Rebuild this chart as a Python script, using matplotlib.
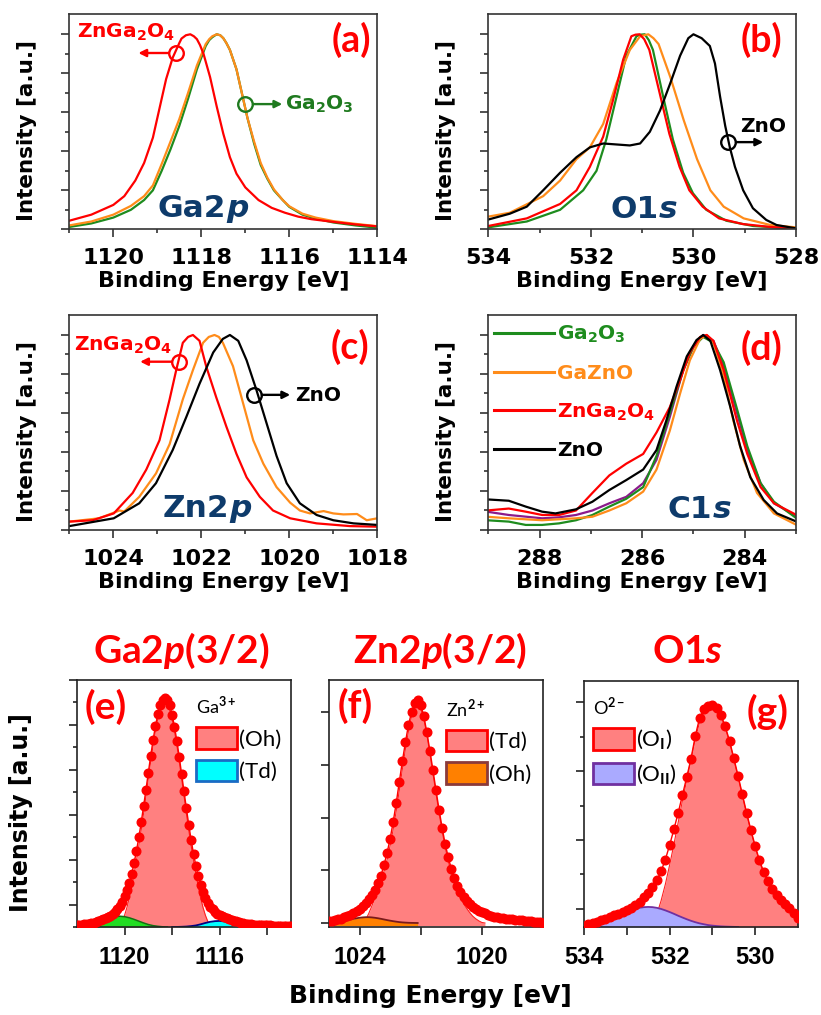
import numpy as np
import matplotlib
matplotlib.use("Agg")
import matplotlib.pyplot as plt
from matplotlib.patches import Patch

plt.rcParams['font.family'] = 'DejaVu Sans'
plt.rcParams['font.weight'] = 'bold'
plt.rcParams['mathtext.fontset'] = 'custom'
plt.rcParams['mathtext.rm'] = 'Lato'
plt.rcParams['mathtext.it'] = 'Lato:italic:bold'
plt.rcParams['mathtext.bf'] = 'Lato:bold'

# ---------------- data ----------------
# (a) Ga2p
a_red_x = [1121.0, 1120.5, 1120.0, 1119.75, 1119.5, 1119.3, 1119.1, 1118.95, 1118.8, 1118.65, 1118.5, 1118.45, 1118.35,
           1118.25, 1118.17, 1118.1, 1118.03, 1117.95, 1117.8, 1117.65, 1117.5, 1117.35, 1117.2, 1117.0, 1116.7,
           1116.4, 1116.1, 1115.8, 1115.5, 1115.0, 1114.5, 1114.0]
a_red_y = [.044, .075, .125, .17, .25, .34, .47, .62, .77, .88, .955, .978, .995,
           1.0, .99, .975, .945, .90, .78, .63, .49, .37, .285, .215, .15,
           .11, .085, .065, .052, .038, .025, .015]
a_orange_x = [1121.0, 1120.5, 1120.0, 1119.6, 1119.3, 1119.1, 1118.9, 1118.7, 1118.5, 1118.3, 1118.1, 1117.9, 1117.82,
              1117.75, 1117.65, 1117.57, 1117.5, 1117.43, 1117.35, 1117.2, 1117.05, 1116.95, 1116.8, 1116.65, 1116.5,
              1116.35, 1116.15, 1116.0, 1115.7, 1115.4, 1115.0, 1114.5, 1114.0]
a_orange_y = [.02, .04, .075, .12, .17, .225, .335, .45, .565, .70, .84, .95, .975,
              .99, 1.0, .995, .98, .955, .92, .82, .67, .57, .45, .34, .265,
              .205, .15, .118, .08, .06, .042, .028, .016]
a_green_x = a_orange_x
a_green_y = [.012, .03, .06, .10, .15, .20, .30, .41, .53, .67, .82, .94, .97,
             .985, 1.0, .995, .98, .955, .92, .82, .67, .57, .44, .33, .26,
             .20, .15, .115, .075, .055, .035, .02, .008]

# (b) O1s
b_black_x = [534.0, 533.58, 533.25, 532.93, 532.6, 532.28, 532.02, 531.76, 531.5, 531.24, 531.04, 530.85, 530.65,
             530.45, 530.26, 530.1, 530.0, 529.84, 529.68, 529.58, 529.48, 529.38, 529.29, 529.19, 529.03, 528.84,
             528.58, 528.38, 528.0]
b_black_y = [.05, .08, .116, .20, .29, .37, .42, .44, .435, .43, .44, .50, .61,
             .75, .89, .98, 1.0, .98, .94, .85, .68, .53, .42, .32, .20, .108,
             .048, .022, .005]
b_red_x = [534.0, 533.25, 532.6, 532.28, 532.02, 531.76, 531.57, 531.37, 531.21, 531.13, 531.05, 530.96, 530.86,
           530.66, 530.47, 530.27, 530.08, 529.82, 529.5, 529.04, 528.5, 528.0]
b_red_y = [.017, .056, .13, .20, .32, .475, .66, .87, .99, .998, 1.0, .975, .92,
           .70, .49, .32, .20, .116, .056, .027, .012, .005]
b_green_x = [534.0, 533.25, 532.6, 532.15, 531.89, 531.7, 531.5, 531.31, 531.11, 531.03, 530.95, 530.87, 530.79,
             530.59, 530.4, 530.2, 530.01, 529.75, 529.36, 528.84, 528.0]
b_green_y = [.01, .04, .10, .20, .30, .46, .68, .89, .99, .998, 1.0, .97, .92,
             .68, .46, .29, .185, .10, .044, .017, .003]
b_orange_x = [534.0, 533.58, 532.93, 532.6, 532.28, 532.02, 531.76, 531.5, 531.24, 531.04, 530.88, 530.78, 530.68,
              530.45, 530.19, 529.93, 529.67, 529.41, 529.02, 528.5, 528.0]
b_orange_y = [.065, .085, .17, .25, .36, .42, .54, .75, .92, .99, 1.0, .98, .95,
              .78, .56, .36, .20, .116, .056, .022, .01]

# (c) Zn2p
c_red_x = [1025.0, 1024.47, 1023.99, 1023.56, 1023.25, 1022.95, 1022.72, 1022.57, 1022.42, 1022.3, 1022.19, 1022.04,
           1021.89, 1021.66, 1021.43, 1021.2, 1020.97, 1020.67, 1020.37, 1019.98, 1019.38, 1018.62, 1018.0]
c_red_y = [.043, .05, .085, .19, .31, .46, .67, .82, .96, .99, 1.0, .97,
           .84, .68, .53, .39, .27, .17, .10, .06, .034, .02, .017]
c_orange_x = [1025.0, 1024.32, 1023.86, 1023.75, 1023.41, 1023.03, 1022.72, 1022.42, 1022.19, 1021.96, 1021.83, 1021.7,
              1021.6, 1021.51, 1021.28, 1021.05, 1020.82, 1020.59, 1020.29, 1019.98, 1019.76, 1019.53, 1019.22,
              1019.0, 1018.77, 1018.46, 1018.24, 1018.0]
c_orange_y = [.043, .06, .10, .095, .17, .29, .44, .67, .82, .96, .99, 1.0,
              .99, .96, .84, .65, .46, .34, .22, .14, .10, .085, .097,
              .085, .08, .082, .05, .06]
c_black_x = [1025.0, 1023.99, 1023.41, 1023.03, 1022.65, 1022.34, 1022.04, 1021.73, 1021.51, 1021.35, 1021.16, 1020.97,
             1020.75, 1020.52, 1020.29, 1020.06, 1019.76, 1019.38, 1019.0, 1018.54, 1018.0]
c_black_y = [.02, .06, .137, .24, .41, .58, .75, .91, .98, 1.0, .97, .87,
             .72, .55, .38, .24, .137, .077, .05, .034, .026]

# (d) C1s
d_black_x = [289.03, 288.6, 288.27, 287.95, 287.69, 287.29, 286.97, 286.64, 286.31, 285.98, 285.72, 285.53, 285.33,
             285.13, 284.94, 284.81, 284.67, 284.48, 284.28, 284.09, 283.89, 283.63, 283.37, 282.99]
d_black_y = [.157, .15, .12, .094, .085, .106, .145, .205, .256, .31, .41, .56, .735,
             .89, .974, 1.0, .97, .82, .63, .43, .27, .154, .085, .043]
d_red_x = [289.03, 288.6, 288.27, 287.95, 287.62, 287.29, 286.97, 286.64, 286.31, 285.98, 285.72, 285.46, 285.26,
           285.07, 284.87, 284.74, 284.61, 284.41, 284.15, 283.95, 283.69, 283.43, 282.99]
d_red_y = [.10, .11, .094, .077, .077, .10, .19, .28, .34, .39, .50, .63, .77,
           .91, .99, 1.0, .97, .82, .56, .39, .22, .137, .077]
d_purple_x = [289.03, 288.6, 287.95, 287.62, 287.29, 286.97, 286.64, 286.31, 285.98, 285.72, 285.46, 285.2, 285.0,
              284.81, 284.61, 284.41, 284.15, 283.95, 283.69, 283.43, 282.99]
d_purple_y = [.094, .077, .06, .065, .077, .10, .137, .17, .24, .36, .58, .82, .94,
              1.0, .97, .84, .60, .41, .24, .137, .07]
d_green_x = [289.03, 288.6, 288.27, 287.95, 287.62, 287.29, 286.97, 286.64, 286.31, 285.98, 285.72, 285.46, 285.2,
             285.0, 284.81, 284.61, 284.41, 284.15, 283.95, 283.69, 283.43, 282.99]
d_green_y = [.05, .043, .026, .026, .034, .05, .077, .12, .16, .22, .38, .60, .82,
             .94, .99, .96, .86, .62, .43, .24, .145, .06]
d_orange_x = [289.03, 288.6, 287.95, 287.29, 286.97, 286.64, 286.31, 285.98, 285.72, 285.46, 285.26, 285.07, 284.87,
              284.74, 284.61, 284.41, 284.22, 284.02, 283.76, 283.43, 282.99]
d_orange_y = [.068, .06, .05, .06, .068, .10, .137, .197, .31, .51, .70, .87, .98,
              1.0, .96, .79, .56, .36, .19, .085, .026]

# (e) Ga2p(3/2) fit, 0.1 eV data grid
e_x = np.round(np.arange(1122.0, 1112.95, -0.1), 1)
e_data = [.009, .010, .011, .012, .014, .015, .018, .020, .023, .026,
          .029, .034, .038, .044, .050, .058, .068, .080, .095, .113,
          .136, .164, .197, .237, .284, .339, .399, .466, .538, .612,
          .688, .763, .833, .896, .948, .988, 1.013, 1.021, 1.012, .987,
          .946, .892, .829, .758, .681, .604, .529, .456, .388, .326,
          .272, .225, .186, .154, .127, .107, .091, .078, .068, .060,
          .053, .048, .043, .039, .035, .031, .028, .025, .022, .019,
          .017, .015, .013, .012, .011, .010, .009, .008, .008, .007,
          .007, .007, .006, .006, .006, .006, .006, .006, .006, .005,
          .005]
e_oh_x = np.round(np.arange(1120.3, 1116.25, -0.1), 1)
e_oh = [0, .008, .025, .052, .087, .130, .180, .236, .297, .362, .432, .506, .584, .662, .738, .809, .873, .927,
        .967, .992, 1.0, .992, .967, .927, .873, .809, .738, .662, .584, .506, .432, .362, .297, .236, .180, .130,
        .087, .052, .025, .008, 0]
e_green_x = np.round(np.arange(1122.0, 1118.15, -0.2), 1)
e_green = [.006, .009, .013, .018, .023, .029, .036, .042, .046, .048, .046, .041, .034, .026, .018, .011, .006,
           .003, .001, 0]
e_td_x = np.round(np.arange(1118.0, 1114.15, -0.2), 1)
e_td = [0, .0003, .001, .002, .004, .007, .012, .018, .023, .026, .027, .025, .021, .016, .012, .008, .005, .002,
        .001, 0]

# (f) Zn2p(3/2) fit
f_x = np.round(np.arange(1025.0, 1017.95, -0.1), 1)
f_data = [.035, .045, .055, .07, .085, .105, .125, .15, .19, .225, .27, .32, .38, .46, .54, .63, .75, .90, 1.10,
          1.33, 1.60, 1.92, 2.28, 2.68, 3.07, 3.43, 3.76, 4.00, 4.18,
          4.23, 4.14, 3.93, 3.62, 3.27, 2.90, 2.52, 2.15, 1.81, 1.50, 1.25, 1.03, .85, .70, .58, .49, .42, .36, .31,
          .26, .23, .205, .185, .155, .135, .12, .11, .10, .092, .085, .078, .07, .062, .055, .048, .042, .036, .03,
          .024, .018, .012, .008]
f_td_x = np.round(np.arange(1023.9, 1019.85, -0.1), 1)
f_td = [0, .06, .18, .32, .48, .66, .82, .98, 1.2, 1.47, 1.78, 2.13, 2.52, 2.92, 3.30, 3.64, 3.92, 4.10, 4.16,
        4.07, 3.88, 3.58, 3.22, 2.84, 2.46, 2.09, 1.75, 1.44, 1.18, .96, .77, .61, .48, .37, .28, .20, .13, .08,
        .04, .01, 0]
f_oh_x = np.round(np.arange(1025.0, 1022.05, -0.1), 1)
f_oh = [.006, .011, .017, .025, .034, .044, .055, .067, .079, .090, .099, .106, .110, .110, .106, .099, .090,
        .079, .067, .055, .044, .034, .025, .017, .011, .007, .004, .002, .001, 0]

# (g) O1s fit
g_x = np.round(np.arange(534.0, 528.95, -0.1), 1)
g_data = [.02, .04, .06, .08, .10, .12, .145, .17, .19, .22, .25, .28, .32, .37, .43, .50, .58, .68, .81, .98,
          1.19, 1.42, 1.66, 1.92, 2.18, 2.45, 2.78, 3.04, 3.17, 3.21,
          3.226, 3.19, 3.086, 2.92, 2.71, 2.46, 2.20, 1.93, 1.66, 1.41, 1.18, .97, .80, .67, .56, .47, .40, .34,
          .28, .21, .13]
g_o1_x = np.round(np.arange(532.5, 528.95, -0.1), 1)
g_o1 = [0, .05, .18, .38, .62, .90, 1.20, 1.52, 1.84, 2.14, 2.44, 2.74, 2.98, 3.12, 3.19, 3.22, 3.18, 3.07, 2.90,
        2.69, 2.44, 2.18, 1.91, 1.64, 1.39, 1.16, .95, .78, .65, .54, .45, .38, .32, .26, .19, .12]
g_o2_x = np.round(np.arange(534.0, 530.35, -0.1), 1)
g_o2 = [.020, .028, .040, .053, .070, .090, .113, .138, .164, .192, .218, .242, .263, .279, .289, .292, .289,
        .279, .263, .242, .218, .192, .164, .138, .113, .090, .070, .053, .040, .028, .020, .014, .009, .006,
        .004, .002, 0]

# ---------------- layout ----------------
W, H = 821, 1015
RED, GREEN, ORANGE, PURPLE = '#ff0000', '#1e8c1e', '#ff8c1a', '#8b1a8b'
NAVY, GTEXT, PINK = '#0e3b6b', '#1f7a1f', '#ff8080'


def rect(l, t, r, b):
    return [l / W, 1 - b / H, (r - l) / W, (b - t) / H]


fig = plt.figure(figsize=(W / 100, H / 100), dpi=100)
ax_a = fig.add_axes(rect(69.3, 14, 377.3, 229.3))
ax_b = fig.add_axes(rect(488.3, 14, 796, 229.3))
ax_c = fig.add_axes(rect(69.3, 314.7, 377.3, 530))
ax_d = fig.add_axes(rect(488.3, 314.7, 796, 530))
ax_e = fig.add_axes(rect(77, 680, 291, 927))
ax_f = fig.add_axes(rect(329, 680, 543, 927))
ax_g = fig.add_axes(rect(584, 681, 798, 927))


def style_top(ax, xlim, major, minor):
    ax.set_xlim(*xlim)
    ax.set_ylim(0, 1.104)
    ax.set_xticks(major)
    ax.set_xticks(minor, minor=True)
    ax.set_yticks([0, .2, .4, .6, .8, 1.0])
    ax.set_yticks([.1, .3, .5, .7, .9], minor=True)
    ax.set_yticklabels([])
    ax.tick_params(which='both', direction='out', color='#333333', width=1.2)
    ax.tick_params(which='major', length=6)
    ax.tick_params(which='minor', length=3)
    ax.tick_params(axis='x', labelsize=16, pad=7.7)
    for s in ax.spines.values():
        s.set_linewidth(1.2)
        s.set_color('#333333')
    ax.set_xlabel('Binding Energy [eV]', fontsize=16, fontweight='bold')
    ax.xaxis.set_label_coords(0.5, -0.193)
    ax.set_ylabel('Intensity [a.u.]', fontsize=15.5, fontweight='bold')
    ax.yaxis.set_label_coords(-0.105, 0.457)


def italic_label(ax, x, y, head, tail, color, size):
    t1 = ax.text(x, y, head, transform=ax.transAxes, color=color, fontsize=size,
                 fontweight='bold', ha='left', va='baseline')
    ax.annotate(tail, xy=(1, 0), xycoords=t1, ha='left', va='bottom', color=color,
                fontsize=size, fontweight='bold', fontstyle='italic')


def marker_arrow(ax, xc, y, xe, color):
    ax.plot([xc], [y], 'o', ms=10.5, mfc='none', mec=color, mew=1.7, zorder=5)
    ax.annotate('', xy=(xe, y), xytext=(xc, y),
                arrowprops=dict(arrowstyle='-|>', color=color, lw=1.7, shrinkA=5.5, shrinkB=0,
                                mutation_scale=11))


def panel_tag(ax, x, y, s, size=27):
    ax.text(x, y, s, transform=ax.transAxes, ha='center', va='center', family='Lato',
            fontweight='bold', fontsize=size, color=RED)


sub_kw = dict(math_fontfamily='dejavusans', fontsize=14.5, fontweight='bold')

# (a)
ax = ax_a
ax.plot(a_green_x, a_green_y, color=GREEN, lw=1.6)
ax.plot(a_orange_x, a_orange_y, color=ORANGE, lw=1.6)
ax.plot(a_red_x, a_red_y, color=RED, lw=1.6)
style_top(ax, (1121, 1114), [1120, 1118, 1116, 1114], [1121, 1119, 1117, 1115])
marker_arrow(ax, 1118.57, .904, 1119.43, RED)
marker_arrow(ax, 1117.0, .642, 1116.16, GTEXT)
ax.text(.025, .916, r'ZnGa$_\mathbf{2}$O$_\mathbf{4}$', transform=ax.transAxes, color=RED,
        ha='left', va='center', **sub_kw)
ax.text(.70, .581, r'Ga$_\mathbf{2}$O$_\mathbf{3}$', transform=ax.transAxes, color=GTEXT,
        ha='left', va='center', **sub_kw)
italic_label(ax, .286, .058, 'Ga2', 'p', NAVY, 22.5)
panel_tag(ax, .915, .879, '(a)')

# (b)
ax = ax_b
ax.plot(b_green_x, b_green_y, color=GREEN, lw=1.6)
ax.plot(b_orange_x, b_orange_y, color=ORANGE, lw=1.6)
ax.plot(b_red_x, b_red_y, color=RED, lw=1.6)
ax.plot(b_black_x, b_black_y, color='black', lw=1.6)
style_top(ax, (534, 528), [534, 532, 530, 528], [533, 531, 529])
marker_arrow(ax, 529.32, .447, 528.64, 'black')
ax.text(.818, .476, 'ZnO', transform=ax.transAxes, color='black', ha='left', va='center', **sub_kw)
italic_label(ax, .396, .052, 'O1', 's', NAVY, 22.5)
panel_tag(ax, .889, .879, '(b)')

# (c)
ax = ax_c
ax.plot(c_orange_x, c_orange_y, color=ORANGE, lw=1.6)
ax.plot(c_red_x, c_red_y, color=RED, lw=1.6)
ax.plot(c_black_x, c_black_y, color='black', lw=1.6)
style_top(ax, (1025, 1018), [1024, 1022, 1020, 1018], [1025, 1023, 1021, 1019])
marker_arrow(ax, 1022.5, .863, 1023.39, RED)
marker_arrow(ax, 1020.8, .693, 1019.98, 'black')
ax.text(.015, .859, r'ZnGa$_\mathbf{2}$O$_\mathbf{4}$', transform=ax.transAxes, color=RED,
        ha='left', va='center', **sub_kw)
ax.text(.733, .627, 'ZnO', transform=ax.transAxes, color='black', ha='left', va='center', **sub_kw)
italic_label(ax, .304, .062, 'Zn2', 'p', NAVY, 22.5)
panel_tag(ax, .911, .85, '(c)')

# (d)
ax = ax_d
ax.plot(d_purple_x, d_purple_y, color=PURPLE, lw=1.6)
ax.plot(d_green_x, d_green_y, color=GREEN, lw=1.6, label=r'Ga$_\mathbf{2}$O$_\mathbf{3}$')
ax.plot(d_orange_x, d_orange_y, color=ORANGE, lw=1.6, label='GaZnO')
ax.plot(d_red_x, d_red_y, color=RED, lw=1.6, label=r'ZnGa$_\mathbf{2}$O$_\mathbf{4}$')
ax.plot(d_black_x, d_black_y, color='black', lw=1.6, label='ZnO')
style_top(ax, (289, 283), [288, 286, 284], [289, 287, 285, 283])
leg = ax.legend(loc='upper left', bbox_to_anchor=(0.005, 0.975), frameon=False, labelcolor='linecolor',
                prop=dict(family='DejaVu Sans', weight='bold', size=14.5, math_fontfamily='dejavusans'),
                handlelength=3.0, handletextpad=0.15, labelspacing=0.92, borderpad=0.2, borderaxespad=0)
for ln in leg.get_lines():
    ln.set_linewidth(2.2)
italic_label(ax, .584, .054, 'C1', 's', NAVY, 22.5)
panel_tag(ax, .889, .845, '(d)')


# ---------------- bottom row ----------------
def style_bottom(ax):
    ax.tick_params(which='both', direction='out', color='#222222', width=1.2)
    ax.tick_params(which='major', length=5.5)
    ax.tick_params(which='minor', length=3)
    ax.tick_params(axis='x', labelsize=17, pad=8.5)
    for lab in ax.get_xticklabels():
        lab.set_fontfamily('Liberation Sans')
        lab.set_fontweight('bold')
    ax.set_yticklabels([])
    for s in ax.spines.values():
        s.set_linewidth(1.2)
        s.set_color('#222222')


def fit_legend(ax, handles, labels, title, anchor):
    ax.legend(handles, labels, title=title, loc='upper left', bbox_to_anchor=anchor, frameon=False,
              prop=dict(family='Lato', weight='normal', size=16),
              title_fontproperties=dict(family='Lato', weight='normal', size=13),
              handlelength=1.85, handleheight=1.13, handletextpad=0.08, labelspacing=0.45,
              borderpad=0, borderaxespad=0, alignment='left')


MS = 6.2

# (e)
ax = ax_e
ax.fill_between(e_oh_x, 0, e_oh, color=PINK, lw=0, zorder=1)
ax.plot(e_oh_x, e_oh, color='#ff2020', lw=0.8, zorder=1.5)
ax.fill_between(e_green_x, 0, e_green, color='#22dd22', lw=0, zorder=2)
ax.plot(e_green_x, e_green, color='#127012', lw=1.1, zorder=2.1)
ax.fill_between(e_td_x, 0, e_td, color='#00ffff', lw=0, zorder=2)
ax.plot(e_td_x, e_td, color='#000080', lw=1.3, zorder=2.1)
ax.plot(e_x, e_data, '-o', color=RED, ms=MS, lw=1, zorder=3)
ax.set_xlim(1122, 1113)
ax.set_ylim(0, 1.1)
ax.set_xticks([1120, 1118, 1116, 1114], ['1120', '', '1116', ''])
ax.set_yticks([.1, .3, .5, .7, .9, 1.1])
ax.set_yticks([0, .2, .4, .6, .8, 1.0], minor=True)
style_bottom(ax)
fit_legend(ax, [Patch(fc=PINK, ec=RED, lw=2), Patch(fc='#00ffff', ec='#1a6bc4', lw=2)],
           ['(Oh)', '(Td)'], r'Ga$^{3+}$', (0.556, 0.935))
panel_tag(ax, .136, .891, '(e)', 28)

# (f)
ax = ax_f
ax.fill_between(f_td_x, -0.05, f_td, color=PINK, lw=0, zorder=1)
ax.plot(f_td_x, f_td, color='#ff2020', lw=0.8, zorder=1.5)
ax.fill_between(f_oh_x, -0.05, f_oh, color='#ff8000', lw=0, zorder=2)
ax.plot(f_oh_x, f_oh, color='#7a1a1a', lw=1.3, zorder=2.1)
ax.plot(f_x, f_data, '-o', color=RED, ms=MS, lw=1, zorder=3)
ax.set_xlim(1025, 1018)
ax.set_ylim(-0.076, 4.61)
ax.set_xticks([1024, 1022, 1020], ['1024', '', '1020'])
ax.set_yticks([0, 1, 2, 3, 4])
style_bottom(ax)
fit_legend(ax, [Patch(fc=PINK, ec=RED, lw=2), Patch(fc='#ff8000', ec='#8b3a3a', lw=2)],
           ['(Td)', '(Oh)'], r'Zn$^{2+}$', (0.547, 0.925))
panel_tag(ax, .121, .895, '(f)', 28)

# (g)
ax = ax_g
ax.fill_between(g_o1_x, 0, g_o1, color=PINK, lw=0, zorder=1)
ax.plot(g_o1_x, g_o1, color='#ff2020', lw=0.8, zorder=1.5)
ax.fill_between(g_o2_x, 0, g_o2, color='#aaaaff', lw=0, zorder=2)
ax.plot(g_o2_x, g_o2, color='#7030a0', lw=1.3, zorder=2.1)
ax.plot(g_x, g_data, '-o', color=RED, ms=MS, lw=1, zorder=3)
ax.set_xlim(534, 529)
ax.set_ylim(0, 3.58)
ax.set_xticks([534, 533, 532, 531, 530], ['534', '', '532', '', '530'])
ax.set_yticks([.268, 1.268, 2.268, 3.268])
ax.set_yticks([.768, 1.768, 2.768], minor=True)
style_bottom(ax)
fit_legend(ax, [Patch(fc=PINK, ec=RED, lw=2), Patch(fc='#aaaaff', ec='#7030a0', lw=2)],
           [r'(O$_{\rm I}$)', r'(O$_{\rm II}$)'], r'O$^{2-}$', (0.042, 0.935))
panel_tag(ax, .86, .874, '(g)', 28)

# titles and shared labels of the bottom row
for xc, s in [(181, r'Ga2$p$(3/2)'), (440, r'Zn2$p$(3/2)'), (688, r'O1$s$')]:
    fig.text(xc / W, 1 - 663 / H, s, ha='center', va='baseline', family='Lato', fontweight='bold',
             fontsize=28, color=RED)
fig.text(21 / W, 1 - 813 / H, 'Intensity [a.u.]', rotation=90, ha='center', va='center',
         fontsize=17, fontweight='bold')
fig.text(430 / W, 1 - 996 / H, 'Binding Energy [eV]', ha='center', va='center',
         fontsize=18, fontweight='bold')

fig.savefig('out.png', dpi=100)
